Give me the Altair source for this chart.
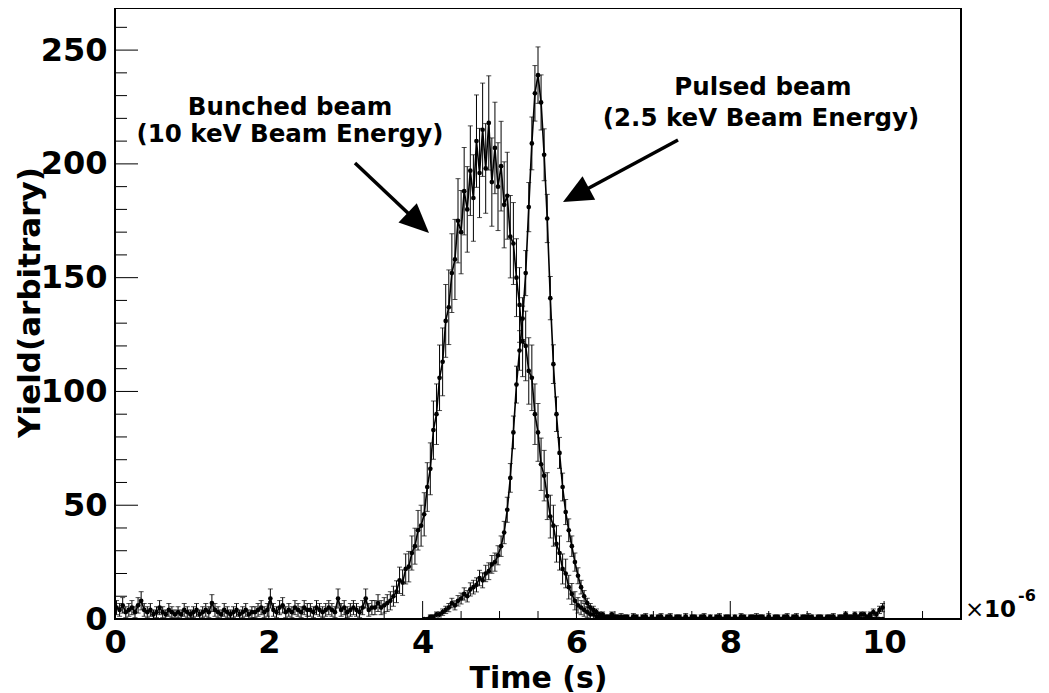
import altair as alt
import numpy as np
import pandas as pd

FONT = "DejaVu Sans"

# ---------------- data ----------------
BIN_WIDTH = 0.04          # microseconds
BUNCHED_FIRST_CENTER = 0.02
PULSED_FIRST_CENTER = 4.02

bunched_counts = [
    5, 4, 6, 3, 4, 5, 3, 6, 8, 4,
    3, 4, 2, 3, 5, 3, 2, 4, 3, 2,
    3, 2, 4, 3, 2, 3, 4, 2, 3, 4,
    3, 7, 4, 3, 2, 4, 3, 2, 3, 4,
    2, 3, 4, 2, 3, 3, 4, 5, 3, 4,
    9, 4, 3, 5, 6, 3, 4, 3, 5, 4,
    3, 5, 4, 4, 3, 5, 4, 3, 4, 5,
    4, 3, 9, 4, 5, 3, 4, 5, 4, 3,
    5, 9, 4, 5, 5, 7, 5, 6, 7, 8,
    10, 12, 17, 16, 22, 23, 29, 32, 39, 41,
    46, 58, 66, 83, 90, 106, 113, 131, 137, 152,
    158, 175, 170, 188, 180, 197, 185, 210, 196, 215,
    198, 218, 192, 207, 190, 199, 182, 186, 168, 165,
    150, 138, 122, 120, 109, 106, 90, 82, 68, 63,
    54, 45, 41, 33, 29, 22, 20, 14, 11, 8,
    6, 5, 4, 3, 2, 2, 1, 1, 1, 0,
    0, 1, 0, 0, 1, 0, 0, 0, 1, 0,
    0, 0, 1, 0, 0, 0, 0, 1, 0, 0,
    1, 0, 0, 0, 0, 1, 0, 0, 0, 0,
    0, 1, 0, 0, 0, 0, 1, 0, 0, 0,
    0, 0, 0, 1, 0, 0, 0, 0, 1, 0,
    0, 0, 1, 0, 0, 0, 0, 0, 1, 0,
    0, 1, 0, 0, 0, 1, 0, 0, 0, 0,
    0, 0, 0, 1, 0, 0, 0, 1, 0, 0,
    1, 0, 0, 0, 0, 1, 0, 0, 0, 0,
]
bunched_errors = [
    3.1, 2.8, 3.4, 2.4, 2.8, 3.1, 2.4, 3.4, 4.0, 2.8,
    2.4, 2.8, 2.0, 2.4, 3.1, 2.4, 2.0, 2.8, 2.4, 2.0,
    2.4, 2.0, 2.8, 2.4, 2.0, 2.4, 2.8, 2.0, 2.4, 2.8,
    2.4, 3.7, 2.8, 2.4, 2.0, 2.8, 2.4, 2.0, 2.4, 2.8,
    2.0, 2.4, 2.8, 2.0, 2.4, 2.4, 2.8, 3.1, 2.4, 2.8,
    4.2, 2.8, 2.4, 3.1, 3.4, 2.4, 2.8, 2.4, 3.1, 2.8,
    2.4, 3.1, 2.8, 2.8, 2.4, 3.1, 2.8, 2.4, 2.8, 3.1,
    2.8, 2.4, 4.2, 2.8, 3.1, 2.4, 2.8, 3.1, 2.8, 2.4,
    3.1, 4.2, 2.8, 3.1, 3.1, 3.7, 3.1, 3.4, 3.7, 4.0,
    4.4, 4.8, 5.8, 5.6, 6.6, 6.7, 7.5, 7.9, 8.7, 9.0,
    9.5, 10.7, 11.4, 12.8, 13.3, 14.4, 14.9, 16.0, 16.4, 17.3,
    17.6, 18.5, 18.3, 19.2, 18.8, 19.7, 19.0, 20.3, 19.6, 20.5,
    19.7, 20.7, 19.4, 20.1, 19.3, 19.7, 18.9, 19.1, 18.1, 18.0,
    17.1, 16.4, 15.5, 15.3, 14.6, 14.4, 13.3, 12.7, 11.5, 11.1,
    10.3, 9.4, 9.0, 8.0, 7.5, 6.6, 6.3, 5.2, 4.6, 4.0,
    3.4, 3.1, 2.8, 2.4, 2.0, 2.0, 1.4, 1.4, 1.4, 0,
    0, 1.4, 0, 0, 1.4, 0, 0, 0, 1.4, 0,
    0, 0, 1.4, 0, 0, 0, 0, 1.4, 0, 0,
    1.4, 0, 0, 0, 0, 1.4, 0, 0, 0, 0,
    0, 1.4, 0, 0, 0, 0, 1.4, 0, 0, 0,
    0, 0, 0, 1.4, 0, 0, 0, 0, 1.4, 0,
    0, 0, 1.4, 0, 0, 0, 0, 0, 1.4, 0,
    0, 1.4, 0, 0, 0, 1.4, 0, 0, 0, 0,
    0, 0, 0, 1.4, 0, 0, 0, 1.4, 0, 0,
    1.4, 0, 0, 0, 0, 1.4, 0, 0, 0, 0,
]

pulsed_counts = [
    0, 0, 1, 1, 2, 2, 3, 4, 5, 7,
    6, 8, 9, 11, 10, 13, 14, 15, 18, 17,
    20, 21, 24, 25, 28, 32, 38, 48, 62, 82,
    103, 118, 132, 152, 181, 209, 231, 239, 227, 204,
    176, 141, 112, 90, 73, 58, 47, 39, 32, 25,
    19, 14, 10, 7, 5, 4, 3, 2, 2, 1,
    1, 2, 1, 1, 0, 1, 1, 0, 1, 1,
    0, 1, 1, 0, 1, 0, 1, 1, 0, 1,
    1, 0, 1, 1, 0, 1, 0, 1, 1, 0,
    1, 1, 0, 1, 0, 1, 1, 0, 1, 1,
    0, 1, 0, 1, 1, 0, 1, 1, 0, 1,
    1, 0, 1, 0, 1, 1, 0, 1, 1, 0,
    1, 1, 0, 1, 1, 0, 1, 0, 1, 1,
    0, 1, 1, 1, 0, 1, 1, 2, 1, 1,
    2, 1, 2, 2, 1, 2, 3, 2, 4, 5,
]
pulsed_errors = [
    0, 0, 0.8, 0.8, 1.1, 1.1, 1.4, 1.6, 1.8, 2.1,
    2.0, 2.3, 2.4, 2.7, 2.5, 2.9, 3.0, 3.1, 3.4, 3.3,
    3.6, 3.7, 3.9, 4.0, 4.2, 4.5, 4.9, 5.5, 6.3, 7.2,
    8.1, 8.7, 9.2, 9.9, 10.8, 11.6, 12.2, 12.4, 12.1, 11.4,
    10.6, 9.5, 8.5, 7.6, 6.8, 6.1, 5.5, 5.0, 4.5, 4.0,
    3.5, 3.0, 2.5, 2.1, 1.8, 1.6, 1.4, 1.1, 1.1, 0.8,
    0.8, 1.1, 0.8, 0.8, 0, 0.8, 0.8, 0, 0.8, 0.8,
    0, 0.8, 0.8, 0, 0.8, 0, 0.8, 0.8, 0, 0.8,
    0.8, 0, 0.8, 0.8, 0, 0.8, 0, 0.8, 0.8, 0,
    0.8, 0.8, 0, 0.8, 0, 0.8, 0.8, 0, 0.8, 0.8,
    0, 0.8, 0, 0.8, 0.8, 0, 0.8, 0.8, 0, 0.8,
    0.8, 0, 0.8, 0, 0.8, 0.8, 0, 0.8, 0.8, 0,
    0.8, 0.8, 0, 0.8, 0.8, 0, 0.8, 0, 0.8, 0.8,
    0, 0.8, 0.8, 0.8, 0, 0.8, 0.8, 1.1, 0.8, 0.8,
    1.1, 0.8, 1.1, 1.1, 0.8, 1.1, 1.4, 1.1, 1.6, 1.8,
]

x_tick_labels = [0, 2, 4, 6, 8, 10]
x_minor_ticks = [0.5, 1, 1.5, 2.5, 3, 3.5, 4.5, 5, 5.5, 6.5, 7, 7.5, 8.5, 9, 9.5, 10.5]
y_tick_labels = [0, 50, 100, 150, 200, 250]
y_minor_ticks = [10, 20, 30, 40, 60, 70, 80, 90, 110, 120, 130, 140,
                 160, 170, 180, 190, 210, 220, 230, 240, 260]

assert len(bunched_counts) == len(bunched_errors) == 250
assert len(pulsed_counts) == len(pulsed_errors) == 150

# ---------------- tables ----------------
def hist_table(first_center, counts, errors, name):
    n = len(counts)
    t = np.round(first_center + BIN_WIDTH * np.arange(n), 3)
    v = np.array(counts, dtype=float)
    e = np.array(errors, dtype=float)
    return pd.DataFrame({"t": t, "v": v, "lo": v - e, "hi": v + e, "e": e, "series": name})

df = pd.concat([
    hist_table(BUNCHED_FIRST_CENTER, bunched_counts, bunched_errors, "Bunched beam"),
    hist_table(PULSED_FIRST_CENTER, pulsed_counts, pulsed_errors, "Pulsed beam"),
], ignore_index=True)
df_err = df[df["e"] > 0]

W, H = 846, 611
xs = alt.Scale(domain=[0, 11], nice=False, zero=False)
ys = alt.Scale(domain=[0, 268.5], nice=False, zero=False)

x_axis = alt.Axis(
    values=x_tick_labels, ticks=False, tickSize=0, domain=False, grid=False,
    labelFont=FONT, labelFontWeight="bold", labelFontSize=32, labelColor="black",
    labelPadding=8, labelFlush=False, labelOverlap=False, format="d",
    title="Time (s)", titleFont=FONT, titleFontWeight="bold", titleFontSize=30,
    titleColor="black", titleY=68, titleBaseline="alphabetic",
)
y_axis = alt.Axis(
    values=y_tick_labels, ticks=False, tickSize=0, domain=False, grid=False,
    labelFont=FONT, labelFontWeight="bold", labelFontSize=32, labelColor="black",
    labelPadding=8, labelFlush=False, labelOverlap=False, format="d",
    title="Yield(arbitrary)", titleFont=FONT, titleFontWeight="bold", titleFontSize=31,
    titleColor="black", titleAngle=270, titleX=-76, titleY=294,
    titleAlign="center", titleBaseline="alphabetic",
)

# every layer carries the same axis definition, so the merged axes stay intact
X = lambda f: alt.X(f, type="quantitative", scale=xs, axis=x_axis)
Y = lambda f: alt.Y(f, type="quantitative", scale=ys, axis=y_axis)

err_bars = alt.Chart(df_err).mark_rule(color="black", strokeWidth=1, clip=True).encode(
    x=X("t"), y=Y("lo"), y2="hi")
cap_hi = alt.Chart(df_err).mark_tick(color="black", orient="horizontal", size=5,
                                     thickness=1, clip=True).encode(x=X("t"), y=Y("hi"))
cap_lo = alt.Chart(df_err).mark_tick(color="black", orient="horizontal", size=5,
                                     thickness=1, clip=True).encode(x=X("t"), y=Y("lo"))
lines = alt.Chart(df).mark_line(color="black", strokeWidth=1.6, clip=True).encode(
    x=X("t"), y=Y("v"), detail="series:N")
points = alt.Chart(df).mark_circle(size=22, color="black", opacity=1, clip=True).encode(
    x=X("t"), y=Y("v"))

# ROOT-style inward ticks
xt_major = alt.Chart(pd.DataFrame({"t": x_tick_labels})).mark_rule(
    color="black", strokeWidth=1).encode(x=X("t"), y=alt.value(H), y2=alt.value(H - 18))
xt_minor = alt.Chart(pd.DataFrame({"t": x_minor_ticks})).mark_rule(
    color="black", strokeWidth=1).encode(x=X("t"), y=alt.value(H), y2=alt.value(H - 8))
yt_major = alt.Chart(pd.DataFrame({"v": y_tick_labels})).mark_rule(
    color="black", strokeWidth=1).encode(y=Y("v"), x=alt.value(0), x2=alt.value(23))
yt_minor = alt.Chart(pd.DataFrame({"v": y_minor_ticks})).mark_rule(
    color="black", strokeWidth=1).encode(y=Y("v"), x=alt.value(0), x2=alt.value(12))

one = pd.DataFrame({"k": [0]})

def label(text, x, y, size=24.5, weight="bold", align="center"):
    return alt.Chart(one).mark_text(
        text=text, font=FONT, fontSize=size, fontWeight=weight, color="black",
        align=align, baseline="alphabetic").encode(x=alt.value(x), y=alt.value(y))

def arrow(x0, y0, x1, y1, tipx, tipy, angle):
    line = alt.Chart(one).mark_rule(color="black", strokeWidth=3.5).encode(
        x=alt.value(x0), y=alt.value(y0), x2=alt.value(x1), y2=alt.value(y1))
    head = alt.Chart(one).mark_point(
        shape="M0,0L-0.95,2.1L0.95,2.1Z", filled=True, color="black", opacity=1,
        size=784, angle=angle, strokeWidth=0).encode(x=alt.value(tipx), y=alt.value(tipy))
    return [line, head]

annotations = [
    label("Bunched beam", 175, 107),
    label("(10 keV Beam Energy)", 175, 134),
    label("Pulsed beam", 648, 87),
    label("(2.5 keV Beam Energy)", 646, 118),
    *arrow(240, 155, 299.5, 211.3, 314, 225, 133.4),
    *arrow(563, 132, 465.6, 184.5, 448, 194, 241.6),
    label("\u00d7", 850, 608.5, size=23, weight="normal", align="left"),
    label("10", 869, 608.5, size=23, align="left"),
    label("-6", 903, 593, size=16, align="left"),
]

chart = alt.layer(
    xt_major, xt_minor, yt_major, yt_minor,
    err_bars, cap_hi, cap_lo, lines, points,
    *annotations,
).properties(
    width=W, height=H,
    padding={"left": 107, "top": 0, "right": 80, "bottom": 74},
    autosize=alt.AutoSizeParams(type="none"),
    background="white",
).configure_view(stroke="black", strokeWidth=2)

chart.save("out.html", embed_options={"renderer": "svg", "actions": False})
